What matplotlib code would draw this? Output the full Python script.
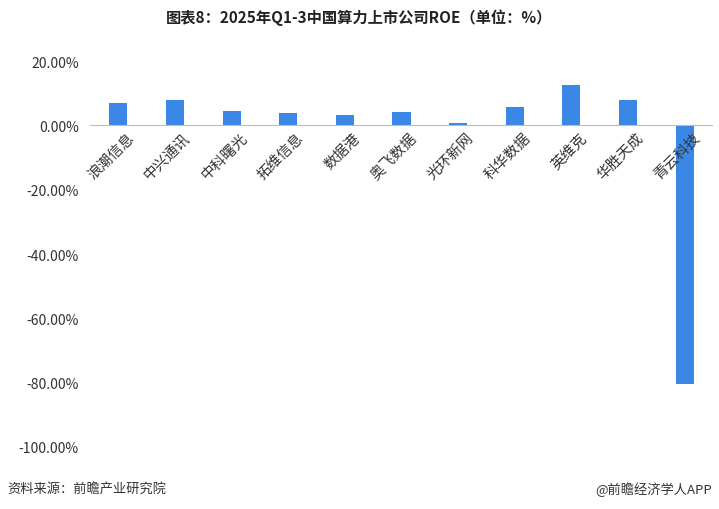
import matplotlib
matplotlib.use("Agg")
import matplotlib.pyplot as plt

plt.rcParams['font.family'] = ['Noto Sans CJK SC', 'DejaVu Sans']

companies = ["浪潮信息", "中兴通讯", "中科曙光", "拓维信息", "数据港", "奥飞数据",
             "光环新网", "科华数据", "英维克", "华胜天成", "青云科技"]
roe = [6.9, 7.8, 4.4, 3.8, 3.4, 4.1, 0.9, 5.9, 12.5, 7.8, -80.3]
yticks = [20, 0, -20, -40, -60, -80, -100]

fig = plt.figure(figsize=(7.19, 5.10), dpi=100)
ax = fig.add_axes([90/719, 0.103, 623/719, 0.838])
x = range(len(companies))
ax.bar(x, roe, width=0.32, color="#3a87e6")
ax.set_xlim(-0.5, len(companies) - 0.5)
ax.set_ylim(-103, 30)
ax.set_yticks(yticks)
ax.set_yticklabels([f"{v:.2f}%" for v in yticks], fontsize=10, color="#333333")
ax.set_xticks([])
for s in ax.spines.values():
    s.set_visible(False)
ax.tick_params(axis='y', length=0, pad=8)
ax.axhline(0, color="#bbbbbb", lw=0.8)
for i, name in enumerate(companies):
    ax.text(i + 0.15, -1.5, name, rotation=45, ha='right', va='top',
            rotation_mode='anchor', fontsize=10.5, color="#333333")
fig.text(0.5, 0.965, "图表8：2025年Q1-3中国算力上市公司ROE（单位：%）",
         ha='center', va='center', fontsize=11, fontweight='bold', color="#222222")
fig.text(0.01, 0.04, "资料来源：前瞻产业研究院", fontsize=9.5, color="#333333", va='center')
fig.text(0.99, 0.04, "@前瞻经济学人APP", fontsize=9.5, color="#333333", va='center', ha='right')
fig.savefig("out.png", dpi=100)
